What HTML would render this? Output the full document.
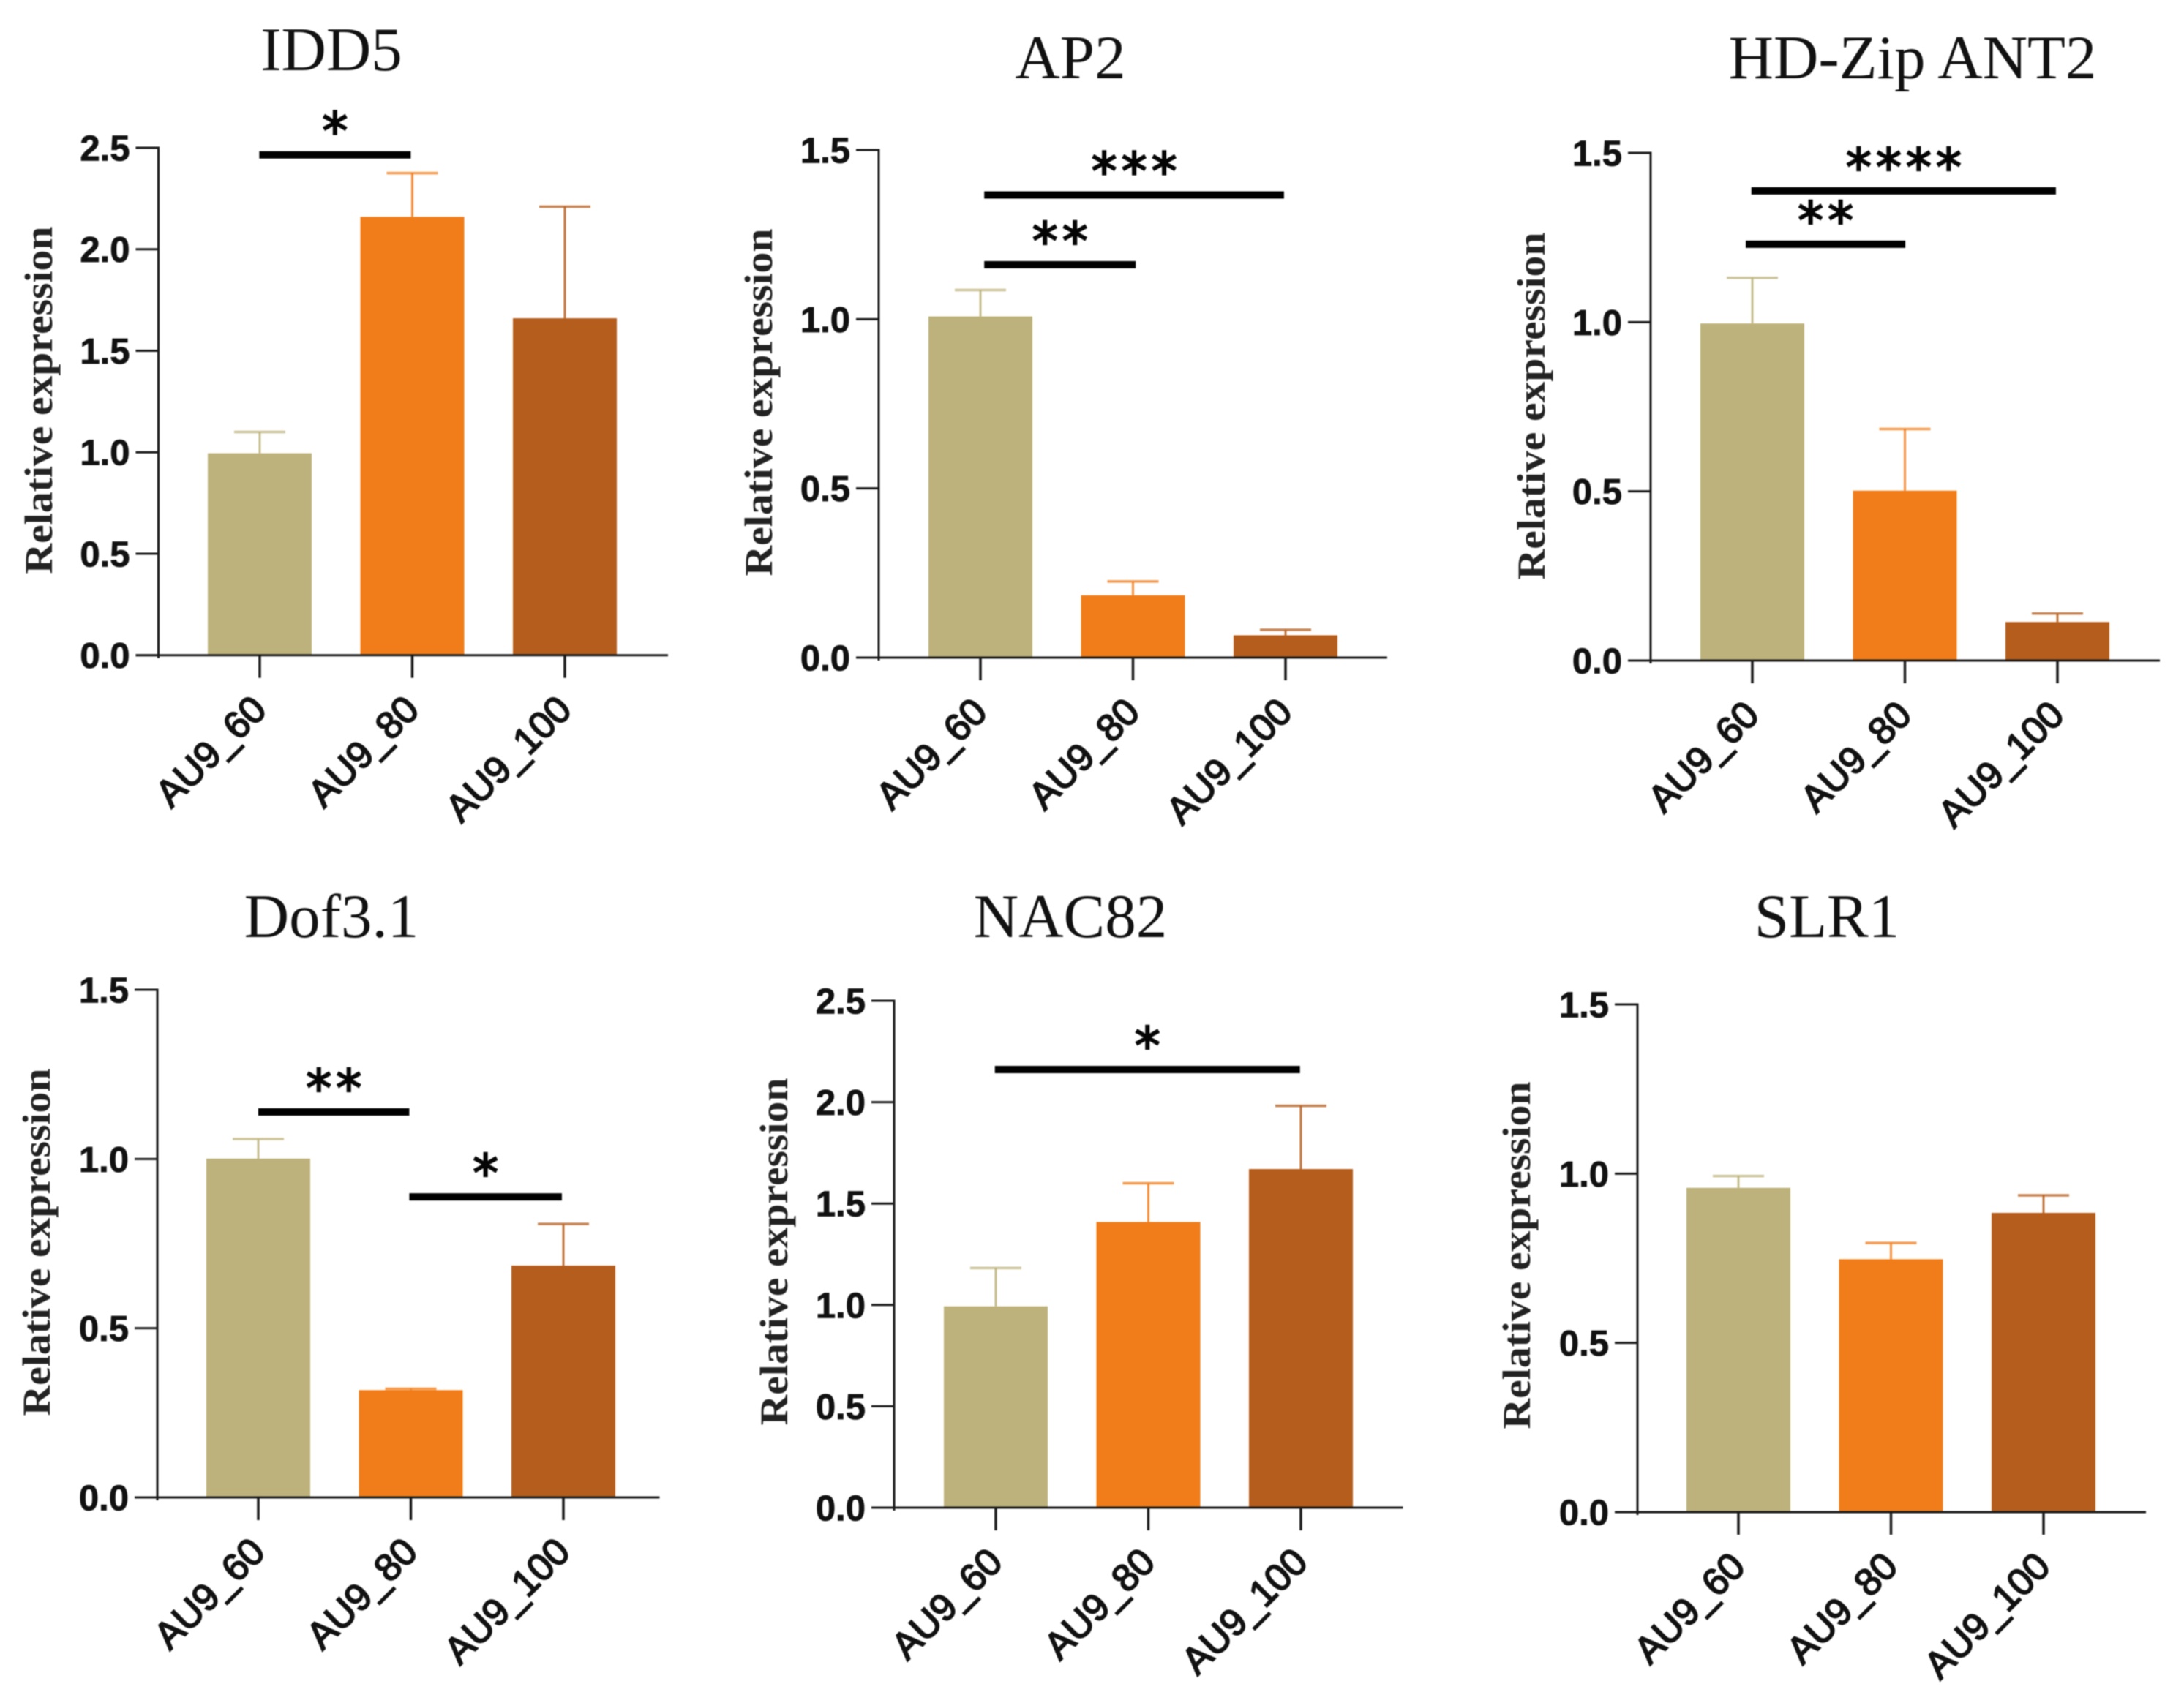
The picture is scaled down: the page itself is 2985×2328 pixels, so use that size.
<!DOCTYPE html>
<html lang="en">
<head>
<meta charset="utf-8">
<title>Relative expression bar charts</title>
<style>
  html, body { margin: 0; padding: 0; background: #fff; }
  body { width: 2985px; height: 2328px; overflow: hidden; }
  svg { display: block; filter: blur(0.9px); }
  .title { font-family: "Liberation Serif", serif; font-size: 85px; fill: #111; text-anchor: middle; }
  .ytitle { font-family: "Liberation Serif", serif; font-weight: bold; font-size: 54px; fill: #222; text-anchor: middle; }
  .ytick { font-family: "Liberation Sans", sans-serif; font-weight: bold; font-size: 49px; fill: #111; text-anchor: end; stroke: #111; stroke-width: 0.8px; }
  .xtick { font-family: "Liberation Sans", sans-serif; font-size: 52px; fill: #111; text-anchor: end; stroke: #111; stroke-width: 1.9px; }
  .stars { font-family: "DejaVu Sans", sans-serif; font-size: 70px; letter-spacing: 6px; fill: #050505; text-anchor: middle; stroke: #050505; stroke-width: 2.2px; }
</style>
</head>
<body>
<svg id="figure" xmlns="http://www.w3.org/2000/svg" width="2985" height="2328" viewBox="0 0 2985 2328"></svg>
<script>
// Shared labels
const categories = ['AU9_60', 'AU9_80', 'AU9_100'];
const ticksTo25 = ['0.0', '0.5', '1.0', '1.5', '2.0', '2.5'];
const ticksTo15 = ['0.0', '0.5', '1.0', '1.5'];
const yAxisTitle = 'Relative expression';

// Means and upper error-bar ends
const idd5Values = [0.995, 2.16, 1.66];
const idd5ErrorTops = [1.10, 2.375, 2.21];
const ap2Values = [1.008, 0.184, 0.066];
const ap2ErrorTops = [1.086, 0.225, 0.082];
const hdZipValues = [0.996, 0.502, 0.114];
const hdZipErrorTops = [1.131, 0.684, 0.139];
const dofValues = [1.001, 0.317, 0.685];
const dofErrorTops = [1.059, 0.321, 0.808];
const nacValues = [0.993, 1.409, 1.67];
const nacErrorTops = [1.182, 1.60, 1.982];
const slrValues = [0.958, 0.747, 0.884];
const slrErrorTops = [0.993, 0.795, 0.936];

// Significance brackets: from category, to category, value level, stars
const idd5Sig = [[-0.003, 0.99, 2.465, '*']];
const ap2Sig = [[0.025, 1.018, 1.161, '**'], [0.025, 1.99, 1.367, '***']];
const hdZipSig = [[-0.043, 1.003, 1.23, '**'], [-0.006, 1.99, 1.388, '****']];
const dofSig = [[0, 0.99, 1.139, '**'], [0.99, 1.99, 0.888, '*']];
const nacSig = [[-0.006, 1.994, 2.161, '*']];
const slrSig = [];

const seriesColors = ['#BDB27B', '#F07D1A', '#B55D1C'];

const panels = [
  { key: 'idd5', title: 'IDD5', titleX: 453, titleY: 96, values: idd5Values, tops: idd5ErrorTops, sig: idd5Sig, ticks: ticksTo25,
    left: 216.5, right: 913, top: 202, base: 895.7, first: 355, yTitleX: 71, yTitleY: 547 },
  { key: 'ap2', title: 'AP2', titleX: 1463, titleY: 107, values: ap2Values, tops: ap2ErrorTops, sig: ap2Sig, ticks: ticksTo15,
    left: 1201, right: 1896, top: 205, base: 899, first: 1340, yTitleX: 1055, yTitleY: 550 },
  { key: 'hd-zip-ant2', title: 'HD-Zip ANT2', titleX: 2614, titleY: 107, values: hdZipValues, tops: hdZipErrorTops, sig: hdZipSig, ticks: ticksTo15,
    left: 2256, right: 2952, top: 209, base: 903, first: 2395, yTitleX: 2111, yTitleY: 555 },
  { key: 'dof3-1', title: 'Dof3.1', titleX: 453, titleY: 1281, values: dofValues, tops: dofErrorTops, sig: dofSig, ticks: ticksTo15,
    left: 215, right: 901.5, top: 1353, base: 2047, first: 353, yTitleX: 68, yTitleY: 1698 },
  { key: 'nac82', title: 'NAC82', titleX: 1463, titleY: 1281, values: nacValues, tops: nacErrorTops, sig: nacSig, ticks: ticksTo25,
    left: 1222, right: 1917.5, top: 1368, base: 2061, first: 1361, yTitleX: 1076, yTitleY: 1711 },
  { key: 'slr1', title: 'SLR1', titleX: 2497, titleY: 1281, values: slrValues, tops: slrErrorTops, sig: slrSig, ticks: ticksTo15,
    left: 2238, right: 2933, top: 1373, base: 2067, first: 2376, yTitleX: 2091, yTitleY: 1716 }
];

const SVG_NS = 'http://www.w3.org/2000/svg';
const figure = document.getElementById('figure');
const STEP = 208.5, BAR_W = 142, CAP_W = 70, TICK_Y = 31, TICK_X = 31;

function make(tag, attrs, parent, text) {
  const node = document.createElementNS(SVG_NS, tag);
  for (const k in attrs) node.setAttribute(k, attrs[k]);
  if (text !== undefined) node.textContent = text;
  parent.appendChild(node);
  return node;
}

panels.forEach(function (p) {
  const maxVal = parseFloat(p.ticks[p.ticks.length - 1]);
  const yScale = function (v) { return p.base - (v / maxVal) * (p.base - p.top); };
  const xScale = function (i) { return p.first + i * STEP; };

  const g = make('g', {}, figure);
  
  

  const title = make('text', { class: 'title', x: p.titleX, y: p.titleY }, g, p.title);
  
  

  const yTitle = make('text', { class: 'ytitle', x: 0, y: 0, textLength: 475, lengthAdjust: 'spacingAndGlyphs',
    transform: 'translate(' + p.yTitleX + ' ' + p.yTitleY + ') rotate(-90)' }, g, yAxisTitle);
  
  

  categories.forEach(function (cat, i) {
    const cx = xScale(i);
    const yVal = yScale(p.values[i]);
    const yTop = yScale(p.tops[i]);
    const color = seriesColors[i];

    const stem = make('line', { x1: cx, x2: cx, y1: yVal, y2: yTop, stroke: color, 'stroke-width': 3, opacity: 0.85 }, g);
    
    

    const cap = make('line', { x1: cx - CAP_W / 2, x2: cx + CAP_W / 2, y1: yTop, y2: yTop, stroke: color, 'stroke-width': 3.5, opacity: 0.75 }, g);
    
    

    const bar = make('rect', { x: cx - BAR_W / 2, y: yVal, width: BAR_W, height: p.base - yVal, fill: color }, g);
    
    
  });

  const yAxis = make('line', { x1: p.left, x2: p.left, y1: p.top - 1.5, y2: p.base + 4, stroke: '#1a1a1a', 'stroke-width': 3 }, g);
  
  

  const xAxis = make('line', { x1: p.left - TICK_Y, x2: p.right, y1: p.base, y2: p.base, stroke: '#1a1a1a', 'stroke-width': 3 }, g);
  
  

  p.ticks.forEach(function (label) {
    const y = yScale(parseFloat(label));
    const tick = make('line', { x1: p.left - TICK_Y, x2: p.left, y1: y, y2: y, stroke: '#1a1a1a', 'stroke-width': 3 }, g);
    
    

    const text = make('text', { class: 'ytick', x: p.left - TICK_Y - 8, y: y + 17.5 }, g, label);
    
    
  });

  categories.forEach(function (cat, i) {
    const cx = xScale(i);
    const tick = make('line', { x1: cx, x2: cx, y1: p.base, y2: p.base + TICK_X, stroke: '#1a1a1a', 'stroke-width': 3.5 }, g);
    
    

    const text = make('text', { class: 'xtick', x: 0, y: 0,
      transform: 'translate(' + (cx + 12) + ' ' + (p.base + 77.3) + ') rotate(-45)' }, g, cat);
    
    
  });

  p.sig.forEach(function (s) {
    const x1 = xScale(s[0]), x2 = xScale(s[1]), y = yScale(s[2]);
    const line = make('line', { x1: x1, x2: x2, y1: y, y2: y, stroke: '#000', 'stroke-width': 10 }, g);
    
    

    const stars = make('text', { class: 'stars', x: (x1 + x2) / 2 + 3, y: y - 8 }, g, s[3]);
    
    
  });
});
</script>
</body>
</html>
